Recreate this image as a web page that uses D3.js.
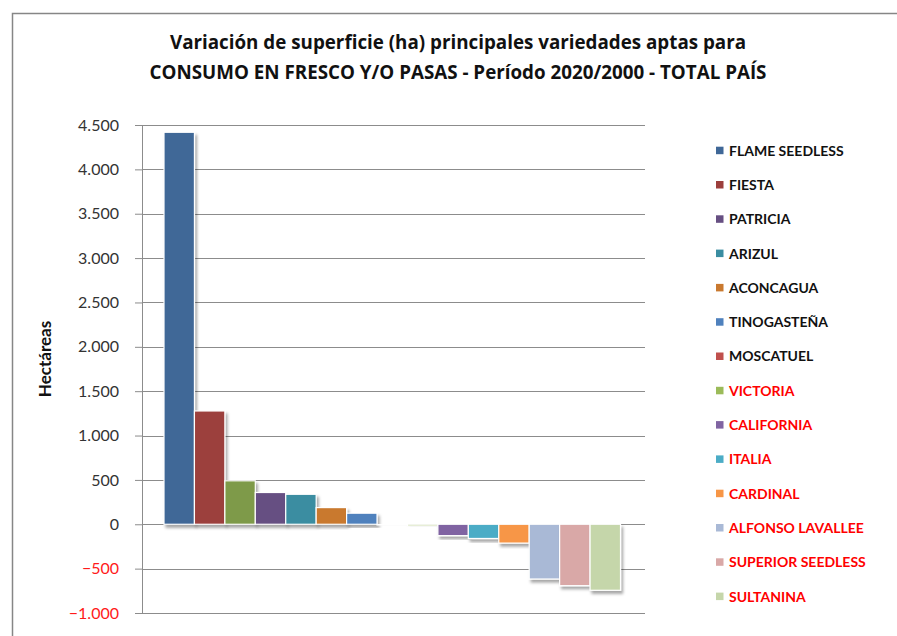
<!DOCTYPE html>
<html>
<head>
<meta charset="utf-8">
<script src="https://cdn.jsdelivr.net/npm/d3@7"></script>
<style>
  body { margin: 0; background: #fff; }
  text { font-family: Lato, "Open Sans", sans-serif; }
</style>
</head>
<body>
<svg id="grafica" width="897" height="636"></svg>
<script>
// variedades (una serie por barra); la 3ra no aparece en la leyenda
const variedades = ["FLAME SEEDLESS", "FIESTA", "", "PATRICIA", "ARIZUL", "ACONCAGUA",
  "TINOGASTEÑA", "MOSCATUEL", "VICTORIA", "CALIFORNIA", "ITALIA", "CARDINAL",
  "ALFONSO LAVALLEE", "SUPERIOR SEEDLESS", "SULTANINA"];
// variación de superficie en hectáreas
const variacion = [4418, 1277, 490, 358, 338, 188, 125, -8, -18, -128, -160, -212, -617, -692, -744];
const colores = ["#3F6797", "#9C3F3C", "#7E9A48", "#664F82", "#3A8DA1", "#C9792F",
  "#4F81BD", "#C0504D", "#9BBB59", "#8064A2", "#4BACC6", "#F79646",
  "#A9B9D6", "#D9A8A7", "#C5D6AA"];
// las variedades en rojo en la leyenda
const en_rojo = ["VICTORIA", "CALIFORNIA", "ITALIA", "CARDINAL", "ALFONSO LAVALLEE", "SUPERIOR SEEDLESS", "SULTANINA"];
const y_ticks = [-1000, -500, 0, 500, 1000, 1500, 2000, 2500, 3000, 3500, 4000, 4500];

const titulo = ["Variación de superficie (ha) principales variedades aptas para",
  "CONSUMO EN FRESCO Y/O PASAS - Período 2020/2000 - TOTAL PAÍS"];

const plot = {l: 142, r: 645, t: 125, b: 613};

const locale = d3.formatLocale({decimal: ",", thousands: ".", grouping: [3], currency: ["$", ""]});
const fmt = locale.format(",d");

let svg = d3.select("#grafica");

// sombra de las barras
let defs = svg.append("defs");
defs.append("filter")
  .attr("id", "sombra")
  .attr("x", "-20%").attr("y", "-20%").attr("width", "150%").attr("height", "150%")
  .append("feDropShadow")
  .attr("dx", 2).attr("dy", 3)
  .attr("stdDeviation", 1.6)
  .attr("flood-color", "#000")
  .attr("flood-opacity", 0.35);

// borde del gráfico
svg.append("rect")
  .attr("x", 12.5).attr("y", 13.5)
  .attr("width", 1000).attr("height", 1000)
  .attr("fill", "none")
  .attr("stroke", "#868686")
  .attr("stroke-width", 1.5);

// título
svg.append("g")
  .selectAll("text")
  .data(titulo)
  .enter()
  .append("text")
  .attr("x", 458)
  .attr("y", (d, i) => 49 + i * 30)
  .attr("text-anchor", "middle")
  .style("font-family", "'Open Sans', sans-serif")
  .attr("font-size", 18.8)
  .attr("font-weight", "bold")
  .attr("fill", "#111")
  .text(d => d);

let y_scale = d3.scaleLinear()
  .domain([-1000, 4500])
  .range([plot.b, plot.t]);

let x_scale = d3.scaleBand()
  .domain(d3.range(variacion.length))
  .range([164, 620.5])
  .padding(0);

// líneas de grilla
svg.append("g")
  .selectAll("line")
  .data(y_ticks)
  .enter()
  .append("line")
  .attr("x1", plot.l).attr("x2", plot.r)
  .attr("y1", d => Math.round(y_scale(d)) + 0.5)
  .attr("y2", d => Math.round(y_scale(d)) + 0.5)
  .attr("stroke", "#8c8c8c")
  .attr("stroke-width", 1);

// eje y
let eje = svg.append("g")
  .attr("transform", `translate(${plot.l},0)`)
  .call(d3.axisLeft(y_scale).tickValues(y_ticks).tickFormat(fmt).tickSize(7).tickPadding(16));
eje.select(".domain").attr("stroke", "#8c8c8c");
eje.selectAll(".tick line").attr("stroke", "#8c8c8c");
eje.selectAll(".tick text")
  .style("font-family", "Lato, 'Open Sans', sans-serif")
  .attr("font-size", 16)
  .attr("fill", d => d < 0 ? "#ff1a1a" : "#333");

svg.append("text")
  .attr("transform", "translate(45,359) rotate(-90)")
  .attr("text-anchor", "middle")
  .attr("dy", "0.35em")
  .attr("font-size", 17)
  .attr("font-weight", "bold")
  .attr("fill", "#111")
  .text("Hectáreas");

// barras
svg.append("g")
  .selectAll("rect")
  .data(variacion)
  .enter()
  .append("rect")
  .attr("x", (d, i) => x_scale(i))
  .attr("y", d => y_scale(Math.max(0, d)))
  .attr("width", x_scale.bandwidth())
  .attr("height", d => Math.abs(y_scale(d) - y_scale(0)))
  .attr("fill", (d, i) => colores[i])
  .attr("stroke", "#fff")
  .attr("stroke-width", 1.2)
  .attr("filter", "url(#sombra)");

// leyenda
let leyenda_data = variedades.map((v, i) => ({nombre: v, color: colores[i]})).filter(d => d.nombre != "");
let leyenda = svg.append("g")
  .selectAll("g")
  .data(leyenda_data)
  .enter()
  .append("g")
  .attr("transform", (d, i) => `translate(716,${150.7 + i * 34.3})`);
leyenda.append("rect")
  .attr("x", 0).attr("y", -4)
  .attr("width", 7.5).attr("height", 7.5)
  .attr("fill", d => d.color);
leyenda.append("text")
  .attr("x", 13)
  .attr("y", 0)
  .attr("dy", "0.35em")
  .attr("font-size", 14)
  .attr("font-weight", "bold")
  .attr("fill", d => en_rojo.includes(d.nombre) ? "#ff0000" : "#111")
  .text(d => d.nombre);
</script>
</body>
</html>
